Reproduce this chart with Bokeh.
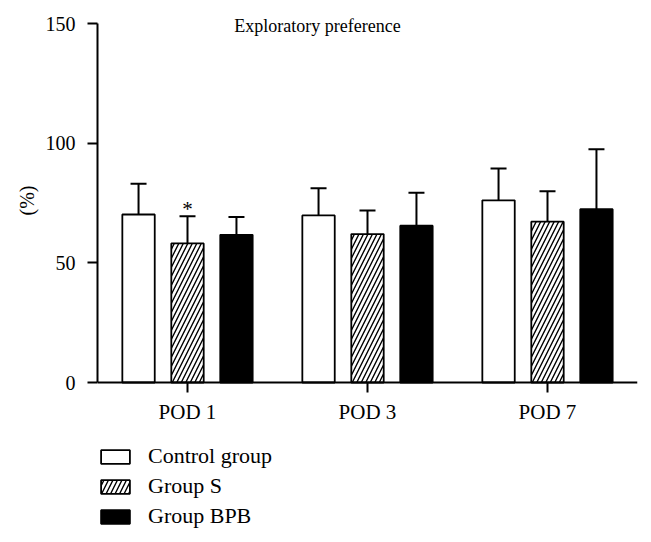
from bokeh.plotting import figure
from bokeh.models import (ColumnDataSource, FactorRange, FixedTicker, Legend, LegendItem,
                          Whisker, TeeHead, Label, Range1d, Title)
from bokeh.transform import dodge
from bokeh.core.properties import value
from bokeh.embed import file_html
from bokeh.resources import INLINE

# ---- data ----
pods = ["POD 1", "POD 3", "POD 7"]
series_names = ["Control group", "Group S", "Group BPB"]
control_mean = [70.2, 69.8, 76.1]
control_err = [12.8, 11.4, 13.3]
s_mean = [58.1, 62.0, 67.2]
s_err = [11.4, 9.9, 12.7]
bpb_mean = [61.7, 65.5, 72.4]
bpb_err = [7.4, 13.8, 25.1]
s_sig = ["*", "", ""]
y_ticks = [0, 50, 100, 150]
title_text = "Exploratory preference"
y_label = "(%)"

FONT = "Liberation Serif"

# layout geometry (pixels)
W, H = 645, 540
LEFT, RIGHT, TOP, BOTTOM = 97, 8, 0, 4
TOP_PX = 23            # pixel row of y = 150
ZERO_PX = 382          # pixel row of y = 0
px_per_unit = (ZERO_PX - TOP_PX) / 150.0
frame_bottom = H - BOTTOM
y_start = -(frame_bottom - ZERO_PX) / px_per_unit
y_end = 150 + (TOP_PX - TOP) / px_per_unit

p = figure(width=W, height=H, x_range=FactorRange(factors=pods, range_padding=0),
           y_range=Range1d(y_start, y_end), output_backend="svg", toolbar_location=None,
           min_border_left=LEFT, min_border_right=RIGHT, min_border_top=TOP,
           min_border_bottom=BOTTOM)
p.outline_line_color = None
p.xgrid.visible = False
p.ygrid.visible = False
p.background_fill_color = "white"

offsets = [-0.272, 0.0, 0.272]
means = [control_mean, s_mean, bpb_mean]
errs = [control_err, s_err, bpb_err]
fills = ["white", "white", "black"]
hatches = [" ", "/", " "]
bar_w = 0.18

renderers = []
for i in range(3):
    src = ColumnDataSource(dict(pod=pods, mean=means[i],
                                upper=[m + e for m, e in zip(means[i], errs[i])]))
    xs = dodge("pod", offsets[i], range=p.x_range)
    w = Whisker(source=src, base=xs, lower="mean", upper="upper", dimension="height",
                line_color="black", line_width=2,
                upper_head=TeeHead(size=16, line_width=2, line_color="black"),
                lower_head=None)
    p.add_layout(w)
    r = p.vbar(x=xs, top="mean", width=bar_w, bottom=0, source=src,
               fill_color=fills[i], line_color="black", line_width=1.8,
               hatch_pattern=hatches[i], hatch_color="black", hatch_scale=9,
               hatch_weight=1.4)
    renderers.append(r)

sig_src = ColumnDataSource(dict(pod=pods, upper=[m + e for m, e in zip(s_mean, s_err)], sig=s_sig))
p.text(x=dodge("pod", offsets[1], range=p.x_range), y="upper", text="sig", source=sig_src,
       text_font=value(FONT), text_font_size="21px", text_align="center",
       text_baseline="alphabetic", text_color="black", y_offset=-7)

# chart title inside the plotting area
p.add_layout(Label(x=1.222, y=148.8, text=title_text, text_font=FONT, text_font_size="18px",
                   text_align="center", text_baseline="alphabetic", text_color="black"))

# axes
for ax in (p.xaxis[0], p.yaxis[0]):
    ax.axis_line_width = 2
    ax.major_tick_line_width = 2
    ax.major_tick_in = 0
    ax.major_tick_out = 10
    ax.minor_tick_line_color = None
    ax.major_label_text_font = FONT
    ax.major_label_text_color = "black"
    ax.axis_line_color = "black"
    ax.major_tick_line_color = "black"

p.yaxis.ticker = FixedTicker(ticks=y_ticks)
p.yaxis.bounds = (0, 150)
p.yaxis.major_label_text_font_size = "20px"
p.yaxis.major_label_standoff = 12
p.xaxis.fixed_location = 0
p.xaxis.major_label_text_font_size = "21px"
p.xaxis.major_label_standoff = 7

# y-axis label as a side title, placed along the 0..150 span
p.add_layout(Title(text=y_label, align="right", offset=185, text_font=FONT,
                   text_font_size="20px", text_font_style="normal", text_color="black",
                   standoff=10), "left")

legend = Legend(items=[LegendItem(label=series_names[i], renderers=[renderers[i]]) for i in range(3)],
                location=(0, 7), orientation="vertical",
                glyph_width=36, glyph_height=17, label_height=17, spacing=4,
                label_standoff=15, padding=0, margin=0, border_line_color=None,
                background_fill_alpha=0, label_text_font=FONT, label_text_font_size="22px",
                label_text_color="black")
p.add_layout(legend, "center")

open("out.html", "w").write(file_html(p, INLINE))
